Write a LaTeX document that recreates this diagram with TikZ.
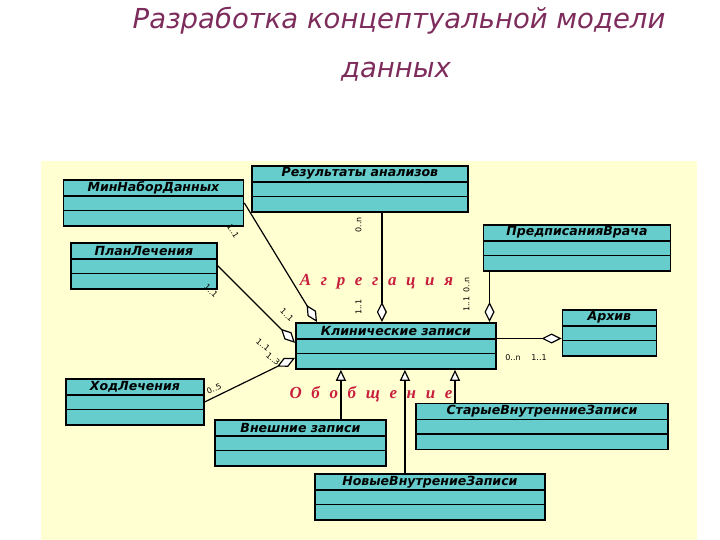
\documentclass[tikz,border=0pt]{standalone}
\usepackage{fontspec}
\usepackage{xcolor}
\usetikzlibrary{arrows.meta,calc}
\setmainfont{DejaVu Sans}
\newfontfamily\serifred{Liberation Serif}[LetterSpace=32]
\definecolor{classfill}{HTML}{66CCCC}
\definecolor{paper}{HTML}{FFFFD2}
\definecolor{headline}{HTML}{7D2C5C}
\definecolor{relred}{HTML}{C81E3C}

% id, x, y (top left), width, name
\newcommand{\classbox}[5]{%
  \node[classbody,minimum width=#4bp,anchor=north west] (#1) at (#2,#3) {};
  \node[classtitle,anchor=north] (#1-title) at (#1.north) {#5};
  \draw[line width=1.8bp] ([yshift=-17bp]#1.north west) -- ([yshift=-17bp]#1.north east);
  \draw[line width=1.8bp] ([yshift=-31.5bp]#1.north west) -- ([yshift=-31.5bp]#1.north east);
}

\begin{document}
\begin{tikzpicture}[x=1bp,y=-1bp,
    classbody/.style={rectangle,draw,line width=1.8bp,fill=classfill,minimum height=46bp,inner sep=0pt},
    classtitle/.style={inner sep=0pt,minimum height=17bp,font=\fontsize{12.6}{13}\selectfont\bfseries\itshape},
    agg/.style={line width=1.2bp,-{Diamond[fill=white,length=20bp,width=10bp]}},
    gen/.style={line width=1.2bp,-{Triangle[fill=white,length=11bp,width=10bp]}},
    mult/.style={font=\fontsize{8}{8}\selectfont,inner sep=0pt},
    relname/.style={font=\serifred\fontsize{17}{17}\selectfont\bfseries\itshape,text=relred,inner sep=0pt},
    heading/.style={font=\fontsize{27.6}{30}\selectfont\itshape,text=headline,inner sep=0pt}]
    \useasboundingbox (0,0) rectangle (720,540);
    \fill[paper] (41,161) rectangle (697,540);

    \node[heading,anchor=base] (title1) at (399,29) {Разработка концептуальной модели};
    \node[heading,anchor=base] (title2) at (396,78) {данных};

    \classbox{mnd}{62.5}{179}{180}{МинНаборДанных}
    \classbox{res}{251}{165}{216}{Результаты анализов}
    \classbox{plan}{70}{242}{146}{ПланЛечения}
    \classbox{pred}{482.5}{224}{187}{ПредписанияВрача}
    \classbox{arch}{561.5}{309}{94}{Архив}
    \classbox{klin}{295}{322}{200}{Клинические записи}
    \classbox{hod}{65}{378}{138}{ХодЛечения}
    \classbox{vne}{214}{419}{171}{Внешние записи}
    \classbox{star}{415}{402.5}{252}{СтарыеВнутренниеЗаписи}
    \classbox{nov}{314}{473}{230}{НовыеВнутрениеЗаписи}

    % aggregation
    \coordinate (a1) at ([xshift=22bp]res.south);
    \coordinate (a2) at ([xshift=7bp]pred.south west);
    \coordinate (a3) at ([yshift=-16.5bp]klin.north east);
    \draw[agg] (mnd.east) -- ([xshift=22bp]klin.north west);
    \draw[agg] (plan.east) -- ([yshift=3bp]klin.west);
    \draw[agg] (hod.east) -- ([yshift=-12bp]klin.west);
    \draw[agg] (a1) -- (a1 |- klin.north);
    \draw[agg] (a2) -- (a2 |- klin.north);
    \draw[agg] (a3) -- (a3 -| arch.west);

    % generalization
    \coordinate (g1) at ([xshift=40.5bp]vne.north);
    \coordinate (g2) at ([xshift=-25bp]nov.north);
    \coordinate (g3) at ([xshift=40bp]star.north west);
    \draw[gen] (g1) -- (g1 |- klin.south);
    \draw[gen] (g2) -- (g2 |- klin.south);
    \draw[gen] (g3) -- (g3 |- klin.south);

    \node[mult,rotate=-58] (m1) at (233,231) {1..1};
    \node[mult,rotate=-45] (m2) at (287,315) {1..1};
    \node[mult,rotate=-44] (m3) at (211,291) {1..1};
    \node[mult,rotate=-40] (m4) at (263,345) {1..1};
    \node[mult,rotate=-40] (m5) at (273,359) {1..3};
    \node[mult,rotate=26] (m6) at (214,389) {0..5};
    \node[mult,rotate=90] (m7) at (358.5,225) {0..n};
    \node[mult,rotate=90] (m8) at (358.5,307) {1..1};
    \node[mult,rotate=90] (m9) at (466.5,285) {0..n};
    \node[mult,rotate=90] (m10) at (466.5,304) {1..1};
    \node[mult] (m11) at (513,358) {0..n};
    \node[mult] (m12) at (539,358) {1..1};

    \node[relname,anchor=base] (aggname) at (376.5,286) {А г р е г а ц и я};
    \node[relname,anchor=base] (genname) at (371,398) {О б о б щ е н и е};
\end{tikzpicture}
\end{document}
